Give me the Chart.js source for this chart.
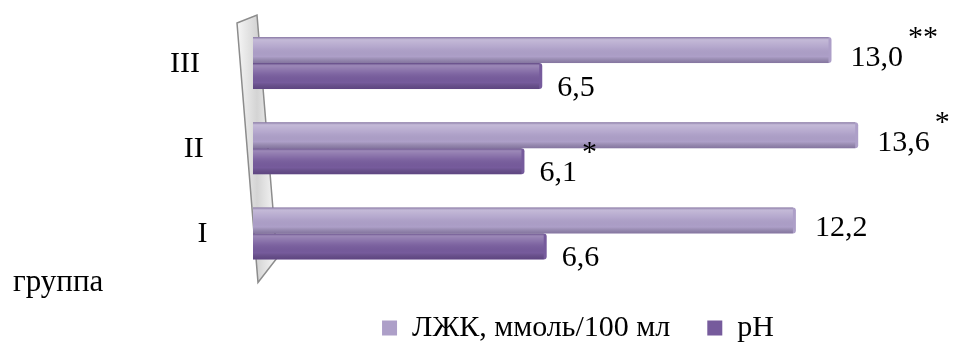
<!DOCTYPE html>
<html>
<head>
<meta charset="utf-8">
<script src="https://cdn.jsdelivr.net/npm/chart.js@4.4.1/dist/chart.umd.min.js"></script>
<style>
  html, body { margin: 0; padding: 0; background: #fff; }
</style>
</head>
<body>
<canvas id="chart" width="955" height="347"></canvas>
<script>
// groups top to bottom, as on the picture
const groups = ['III', 'II', 'I'];
const vfaValues = [13.0, 13.6, 12.2];   // ЛЖК, ммоль/100 мл
const phValues = [6.5, 6.1, 6.6];       // pH
const vfaMarks = ['**', '*', ''];
const phMarks = ['', '*', ''];
const seriesNames = ['ЛЖК, ммоль/100 мл', 'pH'];
const xRange = [0, 15];

const SERIF = '"Liberation Serif"';
Chart.defaults.font.family = SERIF;
Chart.defaults.color = '#000';

// slanted 3d wall behind the bars
const wallPlugin = {
    id: 'wall',
    beforeDatasetsDraw(chart) {
        const { ctx, chartArea: a } = chart;
        const pts = [
            [a.left - 16, a.top + 2.5],
            [a.left + 4, a.top - 5.5],
            [a.left + 24, a.bottom - 18],
            [a.left + 5, a.bottom + 6.5]
        ];
        ctx.save();
        ctx.beginPath();
        pts.forEach((p, i) => i ? ctx.lineTo(p[0], p[1]) : ctx.moveTo(p[0], p[1]));
        ctx.closePath();
        const g = ctx.createLinearGradient(a.left - 16, 0, a.left + 24, 0);
        g.addColorStop(0, '#f6f6f6');
        g.addColorStop(0.5, '#d4d4d4');
        g.addColorStop(1, '#f8f8f8');
        ctx.fillStyle = g;
        ctx.fill();
        ctx.strokeStyle = '#8c8c8c';
        ctx.lineWidth = 1.5;
        ctx.stroke();
        ctx.restore();
    }
};

// shading on bars, value labels, group names and the "группа" caption
const labelsPlugin = {
    id: 'valueLabels',
    afterDatasetsDraw(chart) {
        const { ctx, chartArea: a } = chart;
        ctx.save();
        chart.data.datasets.forEach((ds, di) => {
            const meta = chart.getDatasetMeta(di);
            meta.data.forEach(bar => {
                const top = bar.y - bar.height / 2;
                const g = ctx.createLinearGradient(0, top, 0, top + bar.height);
                g.addColorStop(0, 'rgba(60,40,90,0.35)');
                g.addColorStop(0.1, 'rgba(255,255,255,0.28)');
                g.addColorStop(0.4, 'rgba(255,255,255,0.08)');
                g.addColorStop(0.75, 'rgba(0,0,0,0)');
                g.addColorStop(1, 'rgba(40,20,70,0.3)');
                ctx.fillStyle = g;
                ctx.fillRect(bar.base, top, bar.x - bar.base - 3, bar.height);
            });
        });

        ctx.font = '30px ' + SERIF;
        ctx.fillStyle = '#000';
        ctx.textBaseline = 'alphabetic';
        ctx.textAlign = 'left';
        chart.data.datasets.forEach((ds, di) => {
            const meta = chart.getDatasetMeta(di);
            const marks = di === 0 ? vfaMarks : phMarks;
            const dx = di === 0 ? 19 : 15;
            const dy = di === 0 ? 16 : 19.5;
            meta.data.forEach((bar, i) => {
                const txt = ds.data[i].toFixed(1).replace('.', ',');
                const x = bar.x + dx;
                const base = bar.y + dy;
                ctx.fillText(txt, x, base);
                if (marks[i]) {
                    ctx.fillText(marks[i], x + ctx.measureText(txt).width + 5, base - 20);
                }
            });
        });

        // group names follow the slant of the wall
        const yScale = chart.scales.y;
        ctx.textAlign = 'right';
        ctx.textBaseline = 'middle';
        groups.forEach((g, i) => {
            const py = yScale.getPixelForValue(i);
            ctx.fillText(g, a.left - 55 + (py - a.top) * 0.045, py + 1);
        });

        ctx.textAlign = 'left';
        ctx.textBaseline = 'alphabetic';
        ctx.font = '31px ' + SERIF;
        ctx.fillText('группа', 13, 291);
        ctx.restore();
    }
};

const ctx = document.getElementById('chart').getContext('2d');
new Chart(ctx, {
    type: 'bar',
    data: {
        labels: groups,
        datasets: [
            {
                label: seriesNames[0],
                data: vfaValues,
                backgroundColor: '#ad9fc8',
                borderWidth: 0,
                borderRadius: 3,
                borderSkipped: 'start'
            },
            {
                label: seriesNames[1],
                data: phValues,
                backgroundColor: '#765b9c',
                borderWidth: 0,
                borderRadius: 3,
                borderSkipped: 'start'
            }
        ]
    },
    options: {
        indexAxis: 'y',
        responsive: false,
        animation: false,
        categoryPercentage: 0.61,
        barPercentage: 1,
        layout: {
            padding: { left: 235.5, right: 34.5, top: 20.5, bottom: 0 }
        },
        scales: {
            x: {
                display: false,
                min: xRange[0],
                max: xRange[1]
            },
            y: {
                afterFit(scale) { scale.width = 17.5; },
                grid: { display: false },
                border: { display: false },
                ticks: { display: false }
            }
        },
        plugins: {
            legend: {
                position: 'bottom',
                maxHeight: 71,
                labels: {
                    color: '#000',
                    boxWidth: 15,
                    boxHeight: 15,
                    padding: 37,
                    font: { family: SERIF, size: 30 }
                }
            },
            tooltip: { enabled: false }
        }
    },
    plugins: [wallPlugin, labelsPlugin]
});
</script>
</body>
</html>
